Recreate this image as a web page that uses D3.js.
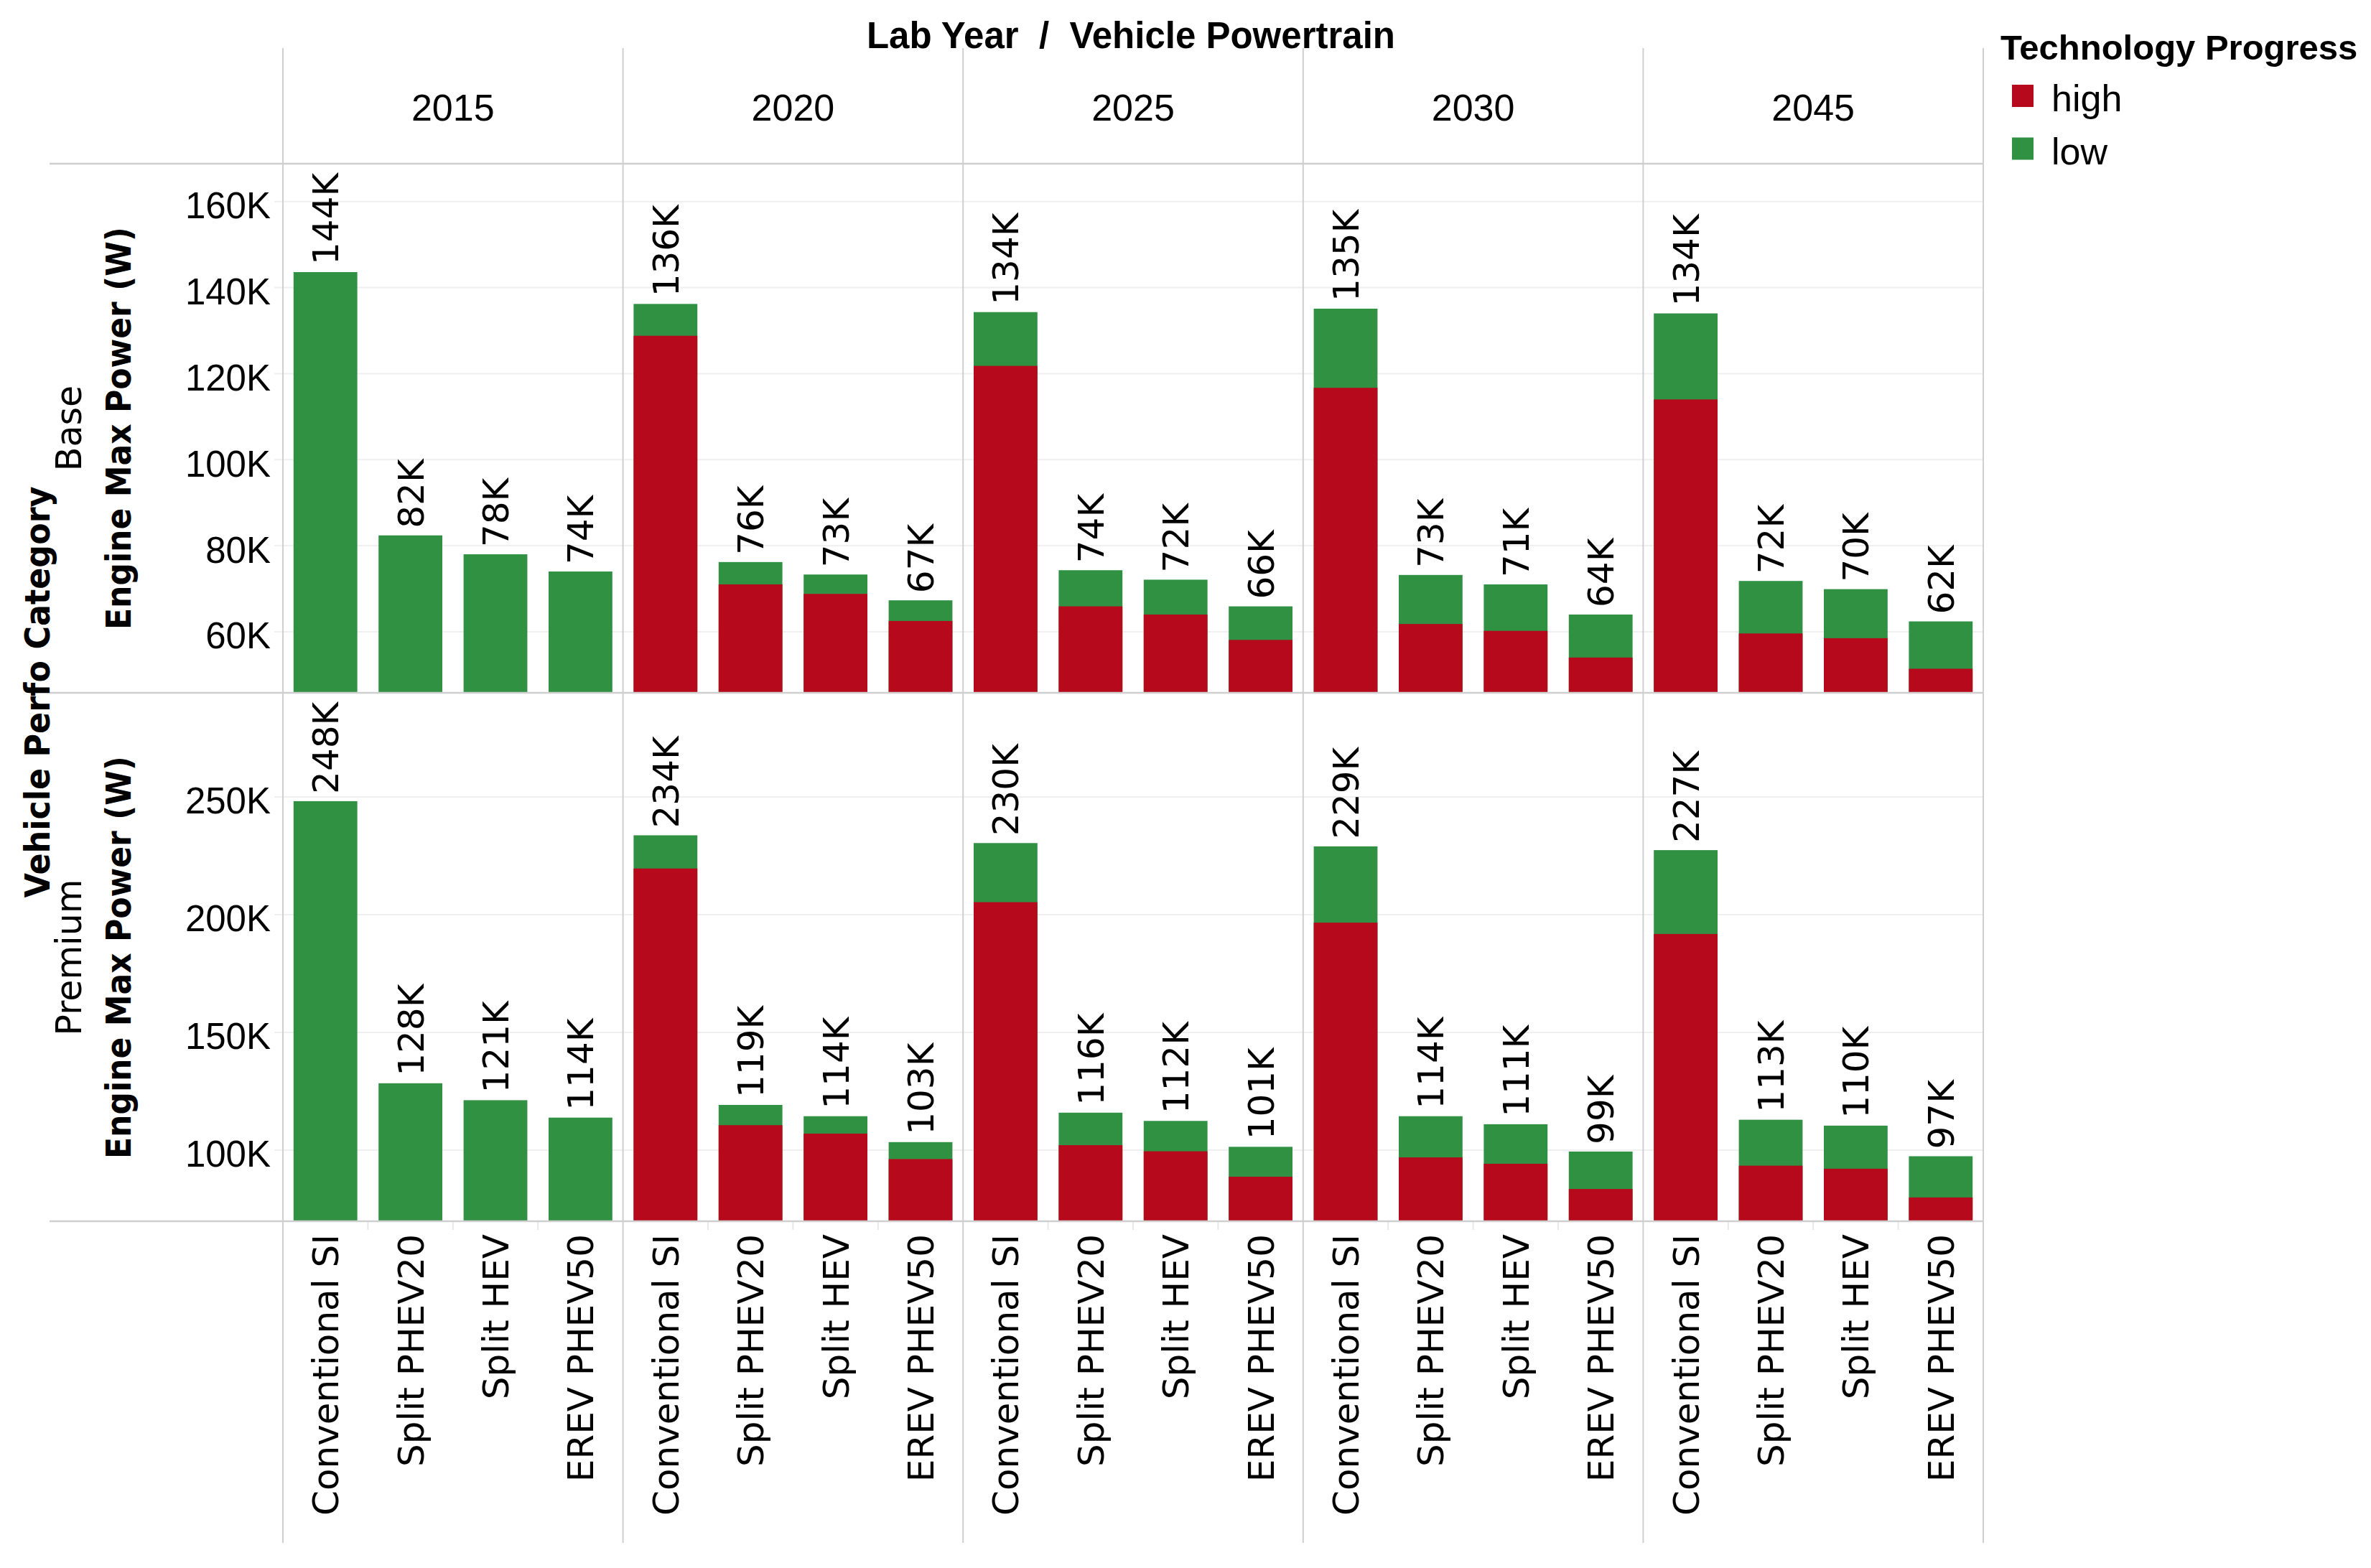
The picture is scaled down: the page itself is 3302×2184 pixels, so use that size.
<!DOCTYPE html>
<html>
<head>
<meta charset="utf-8">
<script src="https://cdn.jsdelivr.net/npm/d3@7"></script>
<style>
  body { margin: 0; background: #fff; }
</style>
</head>
<body>
<div id="chart"></div>
<script>
var years = ['2015', '2020', '2025', '2030', '2045']
var powertrains = ['Conventional SI', 'Split PHEV20', 'Split HEV', 'EREV PHEV50']
var categories = ['Base', 'Premium']
var progressLevels = ['high', 'low']

// engine max power (W), one row per lab year, columns in powertrain order
var baseLow = [
  [143600, 82400, 78000, 74000],
  [136200, 76200, 73300, 67300],
  [134300, 74300, 72100, 65900],
  [135100, 73200, 71000, 64000],
  [134000, 71800, 69900, 62400]
]
var baseHigh = [
  [null, null, null, null],
  [128800, 71000, 68800, 62500],
  [121800, 65900, 64000, 58100],
  [116700, 61800, 60200, 54000],
  [114000, 59600, 58500, 51400]
]
var premiumLow = [
  [248200, 128400, 121200, 113800],
  [233700, 119200, 114400, 103400],
  [230400, 115900, 112400, 101400],
  [229000, 114400, 111000, 99400],
  [227400, 112900, 110400, 97400]
]
var premiumHigh = [
  [null, null, null, null],
  [219600, 110600, 107000, 96200],
  [205300, 102100, 99500, 88700],
  [196600, 96900, 94200, 83500],
  [191800, 93400, 92100, 79900]
]
var baseTicks = [60000, 80000, 100000, 120000, 140000, 160000]
var premiumTicks = [100000, 150000, 200000, 250000]

var width = 3302
var height = 2184
var colors = { high: '#b60a1c', low: '#309143' }
var lineColor = '#cfcfcf'
var gridColor = '#efefef'
var narrowFont = '"Liberation Sans", Arial, sans-serif'
var labelFont = '"DejaVu Sans", Verdana, sans-serif'

var kFormat = function(v) { return Math.round(v / 1000) + 'K' }

var svg = d3.select('#chart').append('svg')
  .attr('width', width).attr('height', height)
  .style('background', '#fff')

var x = d3.scaleBand().domain(years).range([394, 2762])
var xInner = d3.scaleBand().domain(powertrains).range([0, x.bandwidth()])
  .paddingInner(0.25).paddingOuter(0.125)

var panels = [
  { name: categories[0], low: baseLow, high: baseHigh, ticks: baseTicks,
    y: d3.scaleLinear().domain([45800, 168800]).range([965, 228]) },
  { name: categories[1], low: premiumLow, high: premiumHigh, ticks: premiumTicks,
    y: d3.scaleLinear().domain([69800, 293900]).range([1701, 966]) }
]

panels.forEach(function(p) {
  var top = p.y.range()[1], bottom = p.y.range()[0]
  var mid = (top + bottom) / 2
  var g = svg.append('g')

  // gridlines
  g.selectAll('line.grid').data(p.ticks).enter().append('line')
    .attr('x1', 382).attr('x2', 2762)
    .attr('y1', p.y).attr('y2', p.y)
    .style('stroke', gridColor).style('stroke-width', 2)

  // axis
  var axis = g.append('g').attr('transform', 'translate(377,0)')
    .call(d3.axisLeft(p.y).tickValues(p.ticks).tickFormat(kFormat).tickSize(0).tickPadding(0))
  axis.select('.domain').remove()
  axis.selectAll('text')
    .attr('dy', '0.45em')
    .style('font-family', narrowFont).style('font-size', '51px').style('fill', '#000')

  // bars
  years.forEach(function(yr, i) {
    var col = g.append('g').attr('transform', 'translate(' + x(yr) + ',0)')
    var rows = powertrains.map(function(pt, j) {
      return { pt: pt, low: p.low[i][j], high: p.high[i][j] }
    })

    col.selectAll('rect.low').data(rows).enter().append('rect')
      .attr('x', function(d) { return xInner(d.pt) })
      .attr('width', xInner.bandwidth())
      .attr('y', function(d) { return p.y(d.low) })
      .attr('height', function(d) { return bottom - p.y(d.low) })
      .style('fill', colors.low)

    col.selectAll('rect.high').data(rows.filter(function(d) { return d.high != null }))
      .enter().append('rect')
      .attr('x', function(d) { return xInner(d.pt) })
      .attr('width', xInner.bandwidth())
      .attr('y', function(d) { return p.y(d.high) })
      .attr('height', function(d) { return bottom - p.y(d.high) })
      .style('fill', colors.high)

    col.selectAll('text.value').data(rows).enter().append('text')
      .attr('transform', function(d) {
        return 'translate(' + (xInner(d.pt) + xInner.bandwidth() / 2) + ',' + (p.y(d.low) - 10) + ') rotate(-90)'
      })
      .attr('dy', '0.36em')
      .style('font-family', labelFont).style('font-size', '50px')
      .text(function(d) { return kFormat(d.low) })
  })

  // row headers
  svg.append('text')
    .attr('transform', 'translate(113,' + mid + ') rotate(-90)')
    .attr('text-anchor', 'middle')
    .style('font-family', labelFont).style('font-size', '49px')
    .text(p.name)

  svg.append('text')
    .attr('transform', 'translate(182,' + mid + ') rotate(-90)')
    .attr('text-anchor', 'middle')
    .attr('textLength', 561).attr('lengthAdjust', 'spacingAndGlyphs')
    .style('font-family', labelFont).style('font-size', '48px').style('font-weight', 'bold')
    .text('Engine Max Power (W)')
})

// powertrain labels along the bottom
years.forEach(function(yr) {
  var col = svg.append('g').attr('transform', 'translate(' + x(yr) + ',0)')
  col.selectAll('text').data(powertrains).enter().append('text')
    .attr('transform', function(d) {
      return 'translate(' + (xInner(d) + xInner.bandwidth() / 2) + ',1719) rotate(-90)'
    })
    .attr('text-anchor', 'end')
    .attr('dy', '0.36em')
    .style('font-family', labelFont).style('font-size', '50px')
    .text(function(d) { return d })

  col.selectAll('line').data(powertrains.slice(1)).enter().append('line')
    .attr('x1', function(d) { return xInner(d) - xInner.step() * xInner.paddingInner() / 2 })
    .attr('x2', function(d) { return xInner(d) - xInner.step() * xInner.paddingInner() / 2 })
    .attr('y1', 1702).attr('y2', 1713)
    .style('stroke', '#e8e8e8').style('stroke-width', 2)
})

// year headers
svg.selectAll('text.year').data(years).enter().append('text')
  .attr('x', function(d) { return x(d) + x.bandwidth() / 2 })
  .attr('y', 168)
  .attr('text-anchor', 'middle')
  .style('font-family', narrowFont).style('font-size', '52px')
  .text(function(d) { return d })

// table lines
svg.selectAll('line.hrule').data([228, 965, 1701]).enter().append('line')
  .attr('x1', 69).attr('x2', 2762)
  .attr('y1', function(d) { return d }).attr('y2', function(d) { return d })
  .style('stroke', lineColor).style('stroke-width', 2.5)

svg.selectAll('line.vrule').data(years.map(function(d) { return x(d) }).concat([x.range()[1]]))
  .enter().append('line')
  .attr('x1', function(d) { return d }).attr('x2', function(d) { return d })
  .attr('y1', 67).attr('y2', 2149)
  .style('stroke', lineColor).style('stroke-width', 2)

// titles
svg.append('text')
  .attr('x', 1575).attr('y', 67)
  .attr('text-anchor', 'middle')
  .style('white-space', 'pre')
  .style('font-family', narrowFont).style('font-size', '51px').style('font-weight', 'bold')
  .text('Lab Year  /  Vehicle Powertrain')

svg.append('text')
  .attr('transform', 'translate(69,964) rotate(-90)')
  .attr('text-anchor', 'middle')
  .attr('textLength', 573).attr('lengthAdjust', 'spacingAndGlyphs')
  .style('font-family', labelFont).style('font-size', '48px').style('font-weight', 'bold')
  .text('Vehicle Perfo Category')

// legend
var legend = svg.append('g')
legend.append('text')
  .attr('x', 2786).attr('y', 83)
  .style('font-family', narrowFont).style('font-size', '49px').style('font-weight', 'bold')
  .text('Technology Progress')

var items = legend.selectAll('g.item').data(progressLevels).enter().append('g')
  .attr('transform', function(d, i) { return 'translate(0,' + (i * 73.5) + ')' })
items.append('rect')
  .attr('x', 2802).attr('y', 118).attr('width', 30).attr('height', 31)
  .style('fill', function(d) { return colors[d] })
items.append('text')
  .attr('x', 2857).attr('y', 155)
  .style('font-family', narrowFont).style('font-size', '52px')
  .text(function(d) { return d })
</script>
</body>
</html>
